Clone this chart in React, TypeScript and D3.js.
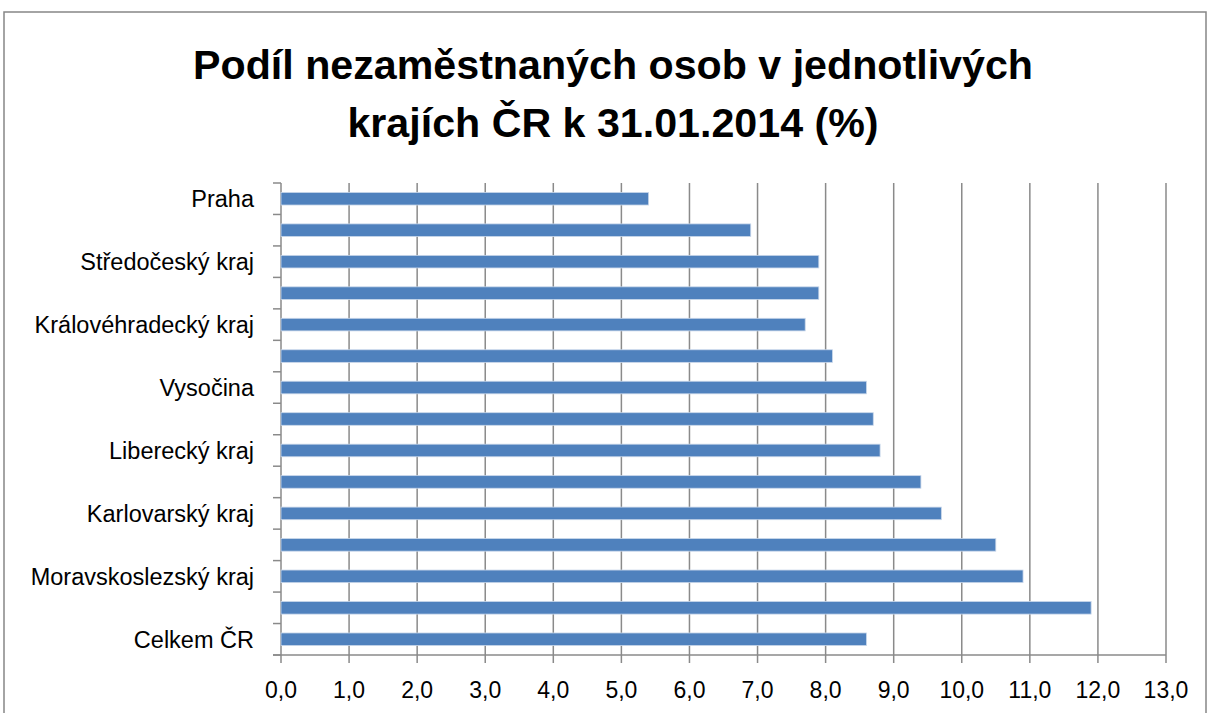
import React from "react";
import * as d3 from "d3";

const categories = [
  "Praha",
  "Plzeňský kraj",
  "Středočeský kraj",
  "Jihočeský kraj",
  "Královéhradecký kraj",
  "Pardubický kraj",
  "Vysočina",
  "Zlínský kraj",
  "Liberecký kraj",
  "Jihomoravský kraj",
  "Karlovarský kraj",
  "Olomoucký kraj",
  "Moravskoslezský kraj",
  "Ústecký kraj",
  "Celkem ČR",
];
const values = [5.4, 6.9, 7.9, 7.9, 7.7, 8.1, 8.6, 8.7, 8.8, 9.4, 9.7, 10.5, 10.9, 11.9, 8.6];
const xTicks = [0, 1, 2, 3, 4, 5, 6, 7, 8, 9, 10, 11, 12, 13];
const titleLines = ["Podíl nezaměstnaných osob v jednotlivých", "krajích ČR k 31.01.2014 (%)"];

const W = 1208;
const H = 713;
const left = 281;
const right = 1166;
const top = 183;
const bottom = 655;

export default function App() {
  const x = d3.scaleLinear().domain([0, 13]).range([left, right]);
  const y = d3
    .scaleBand<string>()
    .domain(categories)
    .range([top, bottom])
    .paddingInner(0.6)
    .paddingOuter(0.3);
  const step = y.step();
  const boundaries = d3.range(categories.length + 1).map((i) => top + i * step);
  const fmt = (v: number) => v.toFixed(1).replace(".", ",");
  const font = "'Liberation Sans', Arial, sans-serif";
  const grid = "#8a8a8a";

  return (
    <svg
      width={W}
      height={H}
      style={{ position: "absolute", left: 0, top: 0, background: "#fff" }}
      fontFamily={font}
    >
      <rect x={0} y={0} width={W} height={H} fill="#fff" />
      <rect x={4} y={12} width={1202} height={760} fill="none" stroke="#868686" strokeWidth={1.5} />
      {titleLines.map((t, i) => (
        <text
          key={i}
          x={613}
          y={79 + i * 58}
          textAnchor="middle"
          fontSize={41.2}
          fontWeight="bold"
          fill="#000"
        >
          {t}
        </text>
      ))}
      {/* gridlines */}
      {xTicks.map((t) => (
        <line key={t} x1={x(t)} x2={x(t)} y1={top} y2={bottom + 8} stroke={grid} strokeWidth={1.5} />
      ))}
      {/* bottom axis */}
      <line x1={left - 8} x2={right} y1={bottom} y2={bottom} stroke={grid} strokeWidth={1.5} />
      {/* y ticks */}
      {boundaries.map((b, i) => (
        <line key={i} x1={left - 8} x2={left} y1={b} y2={b} stroke={grid} strokeWidth={1.5} />
      ))}
      {/* bars */}
      {categories.map((c, i) => (
        <rect
          key={c}
          x={x(0)}
          y={y(c)!}
          width={x(values[i]) - x(0)}
          height={y.bandwidth()}
          fill="#4F81BD"
          stroke="#c9d7ea"
          strokeWidth={0.8}
        />
      ))}
      {/* y labels, every other */}
      {categories.map((c, i) =>
        i % 2 === 0 ? (
          <text
            key={c}
            x={254}
            y={y(c)! + y.bandwidth() / 2}
            dy="0.36em"
            textAnchor="end"
            fontSize={23.5}
            fill="#000"
          >
            {c}
          </text>
        ) : null
      )}
      {/* x labels */}
      {xTicks.map((t) => (
        <text key={t} x={x(t)} y={698} textAnchor="middle" fontSize={23} fill="#000">
          {fmt(t)}
        </text>
      ))}
    </svg>
  );
}
